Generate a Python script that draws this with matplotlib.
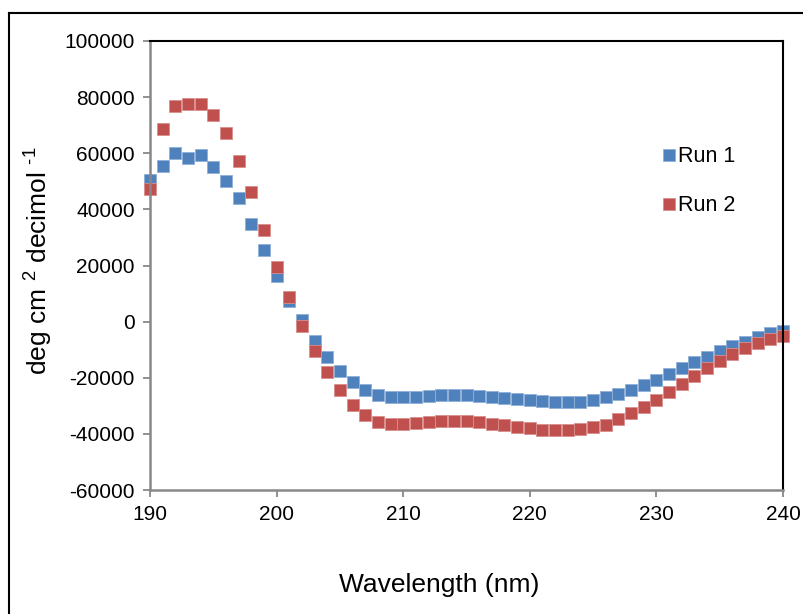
import numpy as np
import matplotlib
matplotlib.use("Agg")
import matplotlib.pyplot as plt
from matplotlib.lines import Line2D

plt.rcParams['font.family'] = ['Liberation Sans', 'DejaVu Sans']
plt.rcParams['mathtext.fontset'] = 'custom'
plt.rcParams['mathtext.rm'] = 'Liberation Sans'
plt.rcParams['axes.unicode_minus'] = False

# wavelength (nm)
wavelength = np.arange(190, 241, 1)

run1 = [50400, 55600, 60000, 58300, 59200, 55100, 50000, 44200, 34700, 25500,
        16300, 7400, 500, -6900, -12700, -17700, -21400, -24200, -26100, -26800,
        -27000, -26800, -26400, -26100, -26100, -26200, -26600, -26900, -27300, -27600,
        -28000, -28400, -28700, -28700, -28500, -27900, -27000, -25800, -24200, -22500,
        -20700, -18700, -16500, -14400, -12500, -10500, -8700, -7100, -5600, -4200,
        -3300]

run2 = [47400, 68500, 76700, 77500, 77700, 73800, 67200, 57100, 46300, 32600,
        19500, 8600, -1500, -10500, -17900, -24300, -29600, -33200, -35600, -36400,
        -36500, -36100, -35700, -35400, -35400, -35500, -35900, -36500, -36900, -37400,
        -38000, -38500, -38700, -38600, -38300, -37600, -36700, -34800, -32600, -30300,
        -27900, -25200, -22200, -19300, -16600, -14000, -11600, -9500, -7700, -6200,
        -5000]

series_names = ['Run 1', 'Run 2']
colors = ['#4F81BD', '#C0504D']
edge_colors = ['#8FB0DA', '#DA8E8C']

fig = plt.figure(figsize=(8.04, 6.14), dpi=100)
ax = fig.add_axes([150/804, 1 - 490/614, 633/804, 449/614])

for vals, name, c, ec in zip([run1, run2], series_names, colors, edge_colors):
    ax.plot(wavelength, vals, linestyle='none', marker='s', markersize=8.6,
            markerfacecolor=c, markeredgecolor=ec, markeredgewidth=0.6,
            label=name, clip_on=False)

ax.set_xlim(190, 240)
ax.set_ylim(-60000, 100000)
ax.set_xticks(np.arange(190, 241, 10))
ax.set_yticks(np.arange(-60000, 100001, 20000))

# excel style axes: gray axis lines, black plot area border
for s in ['left', 'bottom']:
    ax.spines[s].set_color('#888888')
    ax.spines[s].set_linewidth(1.8)
for s in ['top', 'right']:
    ax.spines[s].set_color('black')
    ax.spines[s].set_linewidth(1.5)
ax.tick_params(axis='both', direction='out', length=5, width=1.3, color='#888888',
               labelsize=15, pad=6)

ax.set_xlabel('Wavelength (nm)', fontsize=19)
ax.xaxis.set_label_coords(0.457, -0.185)
ax.set_ylabel(r'deg cm $^{2}$ decimol $^{\text{-1}}$', fontsize=19)
ax.yaxis.set_label_coords(-0.152, 0.51)

ax.legend(loc='upper left', bbox_to_anchor=(0.792, 0.79), frameon=False, fontsize=15.5,
          handlelength=0.6, handletextpad=0.15, labelspacing=1.3, borderpad=0,
          markerscale=0.95)

# chart outer border
fig.add_artist(Line2D([9/804, 9/804], [0, 1 - 13/614], color='black', lw=1.5))
fig.add_artist(Line2D([9/804, 1], [1 - 13/614, 1 - 13/614], color='black', lw=1.5))

fig.savefig('out.png', dpi=100)
